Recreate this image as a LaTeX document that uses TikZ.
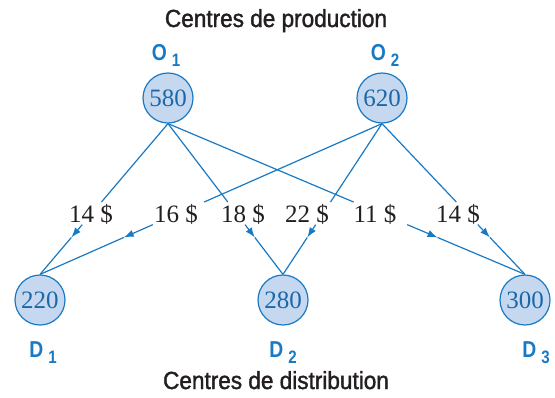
\documentclass[tikz,border=0pt]{standalone}
\usepackage{fontspec}
\setmainfont{Liberation Serif}
\newfontfamily\headfont[FakeStretch=0.91,FakeBold=1.5]{Liberation Sans}
\newfontfamily\tagfont[FakeStretch=0.84]{Liberation Sans Bold}
\usetikzlibrary{arrows.meta,calc}
\definecolor{netblue}{RGB}{24,122,196}
\definecolor{nodefill}{RGB}{198,216,239}
\definecolor{numblue}{RGB}{26,104,170}
\definecolor{costgray}{RGB}{35,31,32}
\begin{document}
\begin{tikzpicture}[x=0.5pt,y=-0.5pt,
  centre/.style={circle,draw=netblue,fill=nodefill,line width=0.6pt,
    minimum size=25pt,inner sep=0pt,text=numblue,
    font=\fontsize{12.5}{14}\selectfont},
  cost/.style={anchor=base,text=costgray,inner sep=0pt,
    font=\fontsize{12.5}{14}\selectfont},
  tag/.style={anchor=base,text=netblue,inner sep=0pt,
    font=\tagfont\fontsize{11.5}{13}\selectfont},
  head/.style={anchor=base,text=costgray,inner sep=0pt,
    font=\headfont\fontsize{12.4}{14}\selectfont},
  link/.style={draw=netblue,line width=0.6pt},
  tip/.style={-{Latex[length=5pt,width=3.6pt]}},
]
\useasboundingbox (0,0) rectangle (555,397);

% headings
\node[head] (top) at (276,27) {Centres de production};
\node[head] (bot) at (276,389) {Centres de distribution};

% production and distribution centres
\node[centre] (o1) at (168,98) {580};
\node[centre] (o2) at (382,98) {620};
\node[centre] (d1) at (40,300) {220};
\node[centre] (d2) at (283,300) {280};
\node[centre] (d3) at (525,300) {300};

\newcommand{\sublbl}[2]{#1\hspace{2.5pt}\raisebox{-3.2pt}{\fontsize{9}{10}\selectfont #2}}
\node[tag] (lo1) at (166,60) {\sublbl{O}{1}};
\node[tag] (lo2) at (385,60) {\sublbl{O}{2}};
\node[tag] (ld1) at (43,357) {\sublbl{D}{1}};
\node[tag] (ld2) at (283,357) {\sublbl{D}{2}};
\node[tag] (ld3) at (536,357) {\sublbl{D}{3}};

% unit costs
\node[cost] (c11) at (91,222) {14 \$};
\node[cost] (c21) at (176,222) {16 \$};
\node[cost] (c12) at (243,222) {18 \$};
\node[cost] (c22) at (307,222) {22 \$};
\node[cost] (c13) at (375,222) {11 \$};
\node[cost] (c23) at (458,222) {14 \$};

% routes, interrupted at the cost labels
\foreach \s/\d in {o1/d1,o2/d1,o1/d2,o2/d2,o1/d3,o2/d3}{
  \coordinate (\s\d a) at ($(\s.south)!0.52!(\d.north)$);
  \coordinate (\s\d b) at ($(\s.south)!0.67!(\d.north)$);
  \coordinate (\s\d c) at ($(\s.south)!0.755!(\d.north)$);
  \draw[link] (\s.south) -- (\s\d a);
  \draw[link,tip] (\s\d b) -- (\s\d c);
  \draw[link] (\s\d c) -- (\d.north);
}
\end{tikzpicture}
\end{document}
